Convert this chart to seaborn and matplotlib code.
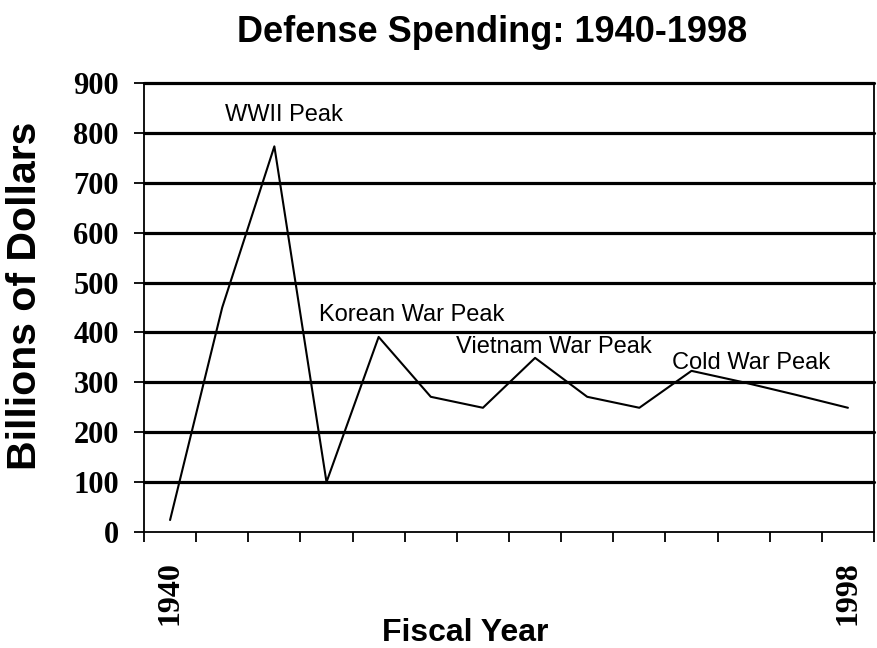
import numpy as np
import pandas as pd
import matplotlib
matplotlib.use("Agg")
import matplotlib.pyplot as plt
import seaborn as sns

# ---- data ----
spending = [24, 450, 773, 100, 391, 271, 249, 349, 271, 249, 323, 300, 275, 249]
tick_labels = ["1940"] + [""] * 12 + ["1998"]
y_ticks = [0, 100, 200, 300, 400, 500, 600, 700, 800, 900]
annotations = ["WWII Peak", "Korean War Peak", "Vietnam War Peak", "Cold War Peak"]

sns.set_style("white")
plt.rcParams["font.family"] = ["Liberation Sans", "DejaVu Sans"]
plt.rcParams["text.color"] = "black"
plt.rcParams["axes.labelcolor"] = "black"
plt.rcParams["xtick.color"] = "black"
plt.rcParams["ytick.color"] = "black"

df = pd.DataFrame({"pos": np.arange(len(spending)), "spending": spending})

fig = plt.figure(figsize=(8.77, 6.48), dpi=100)
ax = fig.add_axes([144 / 877, 1 - 532 / 648, 730 / 877, 449 / 648])

sns.lineplot(data=df, x="pos", y="spending", ax=ax, color="black", linewidth=1.5, zorder=3)

ax.set_xlim(-0.5, len(spending) - 0.5)
ax.set_ylim(0, 900)

# gridlines
for v in y_ticks[1:]:
    ax.axhline(v, color="black", linewidth=2.3, zorder=2, clip_on=False)

# spines
for s in ["left", "bottom", "right"]:
    ax.spines[s].set_visible(True)
    ax.spines[s].set_color("black")
    ax.spines[s].set_linewidth(1.3)
ax.spines["top"].set_visible(False)

# y ticks
ax.set_yticks(y_ticks)
ax.set_yticklabels([str(v) for v in y_ticks], fontfamily="Liberation Serif",
                   fontweight="bold", fontsize=22)
ax.tick_params(axis="y", direction="out", length=7, width=1.3, pad=11, left=True)

# x ticks: labels at category centers, tick marks at boundaries
ax.set_xticks(np.arange(len(spending)))
ax.set_xticklabels(tick_labels, rotation=90, fontfamily="Liberation Serif",
                   fontweight="bold", fontsize=23)
ax.set_xticks(np.arange(-0.5, len(spending)), minor=True)
ax.tick_params(axis="x", which="major", length=0, pad=21)
ax.tick_params(axis="x", which="minor", direction="out", length=7, width=1.3, bottom=True)

# labels
ax.set_xlabel("Fiscal Year", fontsize=23, fontweight="bold")
ax.xaxis.set_label_coords((465 - 144) / 730, (532 - 633) / 449)
ax.xaxis.label.set_va("center")
ax.set_ylabel("Billions of Dollars", fontsize=29.5, fontweight="bold")
ax.yaxis.set_label_coords((25 - 144) / 730, (532 - 296) / 449)
ax.yaxis.label.set_va("center")

fig.text(492 / 877, 1 - 32 / 648, "Defense Spending: 1940-1998", ha="center",
         va="center", fontsize=26, fontweight="bold")

# annotations
ann_pos = [(1.06, 836), (2.86, 435), (5.49, 371), (9.62, 339)]
for txt, (x, y) in zip(annotations, ann_pos):
    ax.text(x, y, txt, ha="left", va="center", fontsize=17, zorder=4)

fig.savefig("out.png", dpi=100)
